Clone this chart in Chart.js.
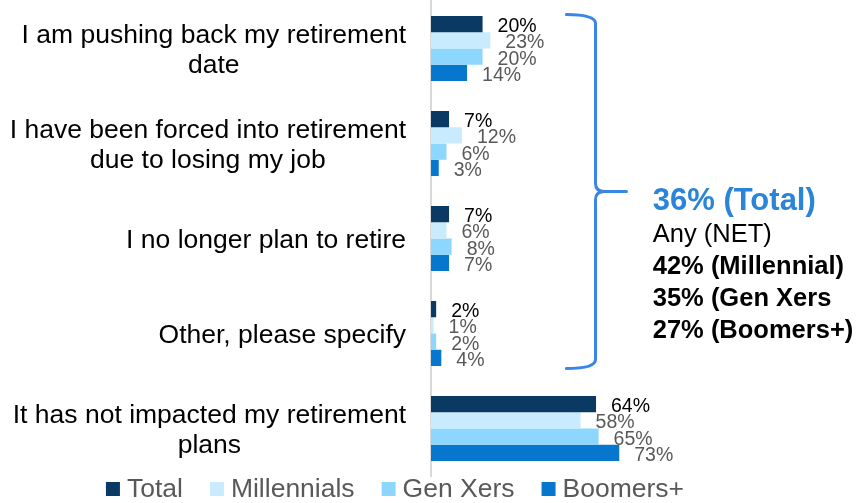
<!DOCTYPE html>
<html>
<head>
<meta charset="utf-8">
<script src="https://cdn.jsdelivr.net/npm/chart.js@4.4.1/dist/chart.umd.min.js"></script>
<style>
  html, body { margin: 0; padding: 0; background: #fff; }
  #wrap { width: 862px; height: 503px; position: relative; }
</style>
</head>
<body>
<div id="wrap"><canvas id="chart"></canvas></div>
<script>
const categories = [
    ['I am pushing back my retirement', 'date'],
    ['I have been forced into retirement', 'due to losing my job'],
    ['I no longer plan to retire'],
    ['Other, please specify'],
    ['It has not impacted my retirement', 'plans']
];
const seriesNames = ['Total', 'Millennials', 'Gen Xers', 'Boomers+'];
const totalValues = [20, 7, 7, 2, 64];
const millennialValues = [23, 12, 6, 1, 58];
const genXerValues = [20, 6, 8, 2, 65];
const boomerValues = [14, 3, 7, 4, 73];
const seriesColors = ['#0a3a64', '#c8ecfd', '#8dd6fd', '#0677cc'];
const netHeadline = '36% (Total)';
const netLines = ['Any (NET)', '42% (Millennial)', '35% (Gen Xers', '27% (Boomers+)'];

const FONT = '"Liberation Sans", Arial, sans-serif';
const ctx = document.getElementById('chart');

// percent labels to the right of every bar
const barLabels = {
    id: 'barLabels',
    afterDatasetsDraw(chart) {
        const c = chart.ctx;
        c.save();
        c.font = `19.5px ${FONT}`;
        c.textAlign = 'left';
        c.textBaseline = 'alphabetic';
        chart.data.datasets.forEach((ds, di) => {
            const meta = chart.getDatasetMeta(di);
            c.fillStyle = di === 0 ? '#000000' : '#595959';
            meta.data.forEach((bar, i) => {
                c.fillText(ds.data[i] + '%', bar.x + 15, bar.y + 8);
            });
        });
        c.restore();
    }
};

// multi-line category names: block right aligned, lines centred inside it
const categoryLabels = {
    id: 'categoryLabels',
    afterDraw(chart) {
        const c = chart.ctx;
        const yScale = chart.scales.y;
        const right = chart.chartArea.left - 25;
        c.save();
        c.font = `26.5px ${FONT}`;
        c.fillStyle = '#000000';
        c.textAlign = 'center';
        c.textBaseline = 'alphabetic';
        categories.forEach((lines, i) => {
            const center = yScale.getPixelForValue(i);
            const blockWidth = Math.max(...lines.map(l => c.measureText(l).width));
            const cx = right - blockWidth / 2;
            lines.forEach((line, li) => {
                const y = center + 9.3 + (li - (lines.length - 1) / 2) * 30;
                c.fillText(line, cx, y);
            });
        });
        c.restore();
    }
};

// curly brace grouping the first four answers, plus the NET text
const netBrace = {
    id: 'netBrace',
    afterDraw(chart) {
        const c = chart.ctx;
        const xScale = chart.scales.x;
        const yScale = chart.scales.y;
        const top = yScale.getPixelForValue(0) - 34;
        const bottom = yScale.getPixelForValue(3) + 35;
        const mid = (top + bottom) / 2;
        const xStart = xScale.getPixelForValue(52.5);
        const xSpine = xScale.getPixelForValue(63.8);
        const xTip = xScale.getPixelForValue(75.8);
        c.save();
        c.strokeStyle = '#3a86e4';
        c.lineWidth = 3;
        c.lineCap = 'round';
        c.beginPath();
        c.moveTo(xStart, top);
        c.quadraticCurveTo(xSpine, top, xSpine, top + 9);
        c.lineTo(xSpine, mid - 8);
        c.quadraticCurveTo(xSpine, mid, xSpine + 9, mid);
        c.lineTo(xTip, mid);
        c.moveTo(xSpine + 9, mid);
        c.quadraticCurveTo(xSpine, mid, xSpine, mid + 8);
        c.lineTo(xSpine, bottom - 9);
        c.quadraticCurveTo(xSpine, bottom, xStart, bottom);
        c.stroke();

        const tx = xScale.getPixelForValue(86);
        c.textAlign = 'left';
        c.textBaseline = 'alphabetic';
        c.fillStyle = '#2a84d8';
        c.font = `bold 31px ${FONT}`;
        c.fillText(netHeadline, tx, mid + 18);
        c.fillStyle = '#000000';
        netLines.forEach((line, i) => {
            c.font = i === 0 ? `25.5px ${FONT}` : `bold 25.5px ${FONT}`;
            c.fillText(line, tx, mid + 50 + i * 32.3);
        });
        c.restore();
    }
};

// square-swatch legend along the bottom
const bottomLegend = {
    id: 'bottomLegend',
    afterDraw(chart) {
        const c = chart.ctx;
        const box = 14;
        const gap = 7;
        const spacing = 27;
        c.save();
        c.font = `26.5px ${FONT}`;
        const widths = seriesNames.map(n => box + gap + c.measureText(n).width);
        const total = widths.reduce((a, b) => a + b, 0) + spacing * (widths.length - 1);
        let x = 395 - total / 2;
        const baseline = 497;
        c.textAlign = 'left';
        c.textBaseline = 'alphabetic';
        seriesNames.forEach((name, i) => {
            c.fillStyle = seriesColors[i];
            c.fillRect(x, baseline - 15, box, box);
            c.fillStyle = '#595959';
            c.fillText(name, x + box + gap, baseline);
            x += widths[i] + spacing;
        });
        c.restore();
    }
};

const chart = new Chart(ctx, {
    type: 'bar',
    data: {
        labels: categories,
        datasets: [
            { label: seriesNames[0], data: totalValues, backgroundColor: seriesColors[0] },
            { label: seriesNames[1], data: millennialValues, backgroundColor: seriesColors[1] },
            { label: seriesNames[2], data: genXerValues, backgroundColor: seriesColors[2] },
            { label: seriesNames[3], data: boomerValues, backgroundColor: seriesColors[3] }
        ]
    },
    options: {
        indexAxis: 'y',
        responsive: true,
        maintainAspectRatio: false,
        animation: false,
        layout: { padding: { top: 1, bottom: 27, right: 70, left: 0 } },
        datasets: {
            bar: { barPercentage: 1, categoryPercentage: 0.684, borderWidth: 0 }
        },
        scales: {
            x: {
                display: false,
                min: 0,
                max: 140
            },
            y: {
                ticks: { display: false },
                grid: { display: false },
                border: { display: true, color: '#d9d9d9', width: 2 },
                afterFit(scale) {
                    scale.width = 431;
                }
            }
        },
        plugins: {
            legend: { display: false },
            tooltip: { enabled: false }
        }
    },
    plugins: [barLabels, categoryLabels, netBrace, bottomLegend]
});
</script>
</body>
</html>
